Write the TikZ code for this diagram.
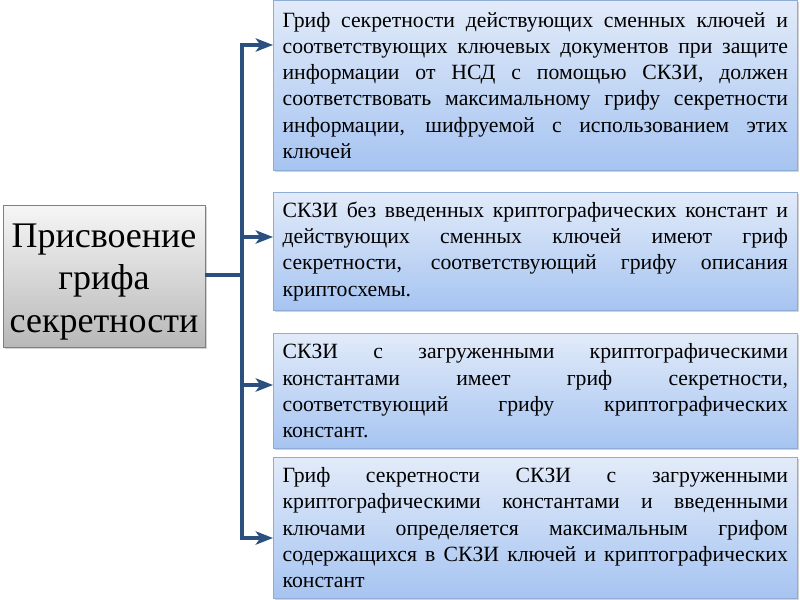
\documentclass[tikz,border=0pt]{standalone}
\usepackage{fontspec}
\setmainfont{Liberation Serif}
\usetikzlibrary{arrows.meta,shadows}
\definecolor{linkblue}{HTML}{2B5080}
\definecolor{cardline}{HTML}{8EADD6}
\definecolor{cardtop}{HTML}{E2EBF9}
\definecolor{cardbot}{HTML}{A6C4F1}
\definecolor{headline}{HTML}{7F7F7F}
\definecolor{headtop}{HTML}{F6F6F6}
\definecolor{headbot}{HTML}{B8B8B8}
\hyphenpenalty=10000
\tolerance=10000
\begin{document}
\begin{tikzpicture}[x=0.75pt,y=-0.75pt,
    card/.style={draw=cardline, top color=cardtop, bottom color=cardbot,
      anchor=north west, inner xsep=7pt, inner ysep=0pt, text width=379pt,
      align=justify, font=\fontsize{16.3}{19.7}\selectfont,
      drop shadow={shadow xshift=1.5pt, shadow yshift=-1.5pt, opacity=0.35}},
    head/.style={draw=headline, top color=headtop, bottom color=headbot,
      minimum width=151.5pt, minimum height=106.5pt, inner sep=0pt,
      align=center, font=\fontsize{27}{32}\selectfont,
      drop shadow={shadow xshift=1.5pt, shadow yshift=-1.5pt, opacity=0.35}},
    link/.style={draw=linkblue, line width=2.6pt},
    tip/.style={-{Stealth[length=13pt, width=10pt, inset=3.5pt]}}]
  \useasboundingbox (0,0) rectangle (800,600);
  % left heading
  \node [head] (main) at (104,276) {\raisebox{-4.5pt}[\height][\depth]{\parbox{151pt}{\centering Присвоение\\ грифа\\ секретности}}};
  % the four cards
  \node [card, minimum height=127.5pt] (b1) at (273,0) {Гриф секретности действующих сменных ключей и\linebreak
    соответствующих ключевых документов при защите\linebreak
    информации от НСД с помощью СКЗИ, должен\linebreak
    соответствовать максимальному грифу секретности\linebreak
    информации, шифруемой с использованием этих\linebreak
    ключей};
  \node [card, minimum height=88.5pt] (b2) at (273,192) {СКЗИ без введенных криптографических констант и\linebreak
    действующих сменных ключей имеют гриф\linebreak
    секретности, соответствующий грифу описания\linebreak
    криптосхемы.};
  \node [card, minimum height=86.25pt] (b3) at (273,333) {СКЗИ с загруженными криптографическими\linebreak
    константами имеет гриф секретности,\linebreak
    соответствующий грифу криптографических\linebreak
    констант.};
  \node [card, minimum height=105.75pt] (b4) at (273,457) {Гриф секретности СКЗИ с загруженными\linebreak
    криптографическими константами и введенными\linebreak
    ключами определяется максимальным грифом\linebreak
    содержащихся в СКЗИ ключей и криптографических\linebreak
    констант};
  % trunk points
  \coordinate (t0) at (242,275);
  \coordinate (t1) at (242,45);
  \coordinate (t2) at (242,237);
  \coordinate (t3) at (242,385);
  \coordinate (t4) at (242,538);
  \draw [link] (main.east |- t0) -- (t0);
  \draw [link, {Stealth[length=13pt, width=10pt, inset=3.5pt]}-{Stealth[length=13pt, width=10pt, inset=3.5pt]}]
    (t1 -| b1.west) -- (t1) -- (t4) -- (t4 -| b4.west);
  \draw [link, tip] (t2) -- (t2 -| b2.west);
  \draw [link, tip] (t3) -- (t3 -| b3.west);
\end{tikzpicture}
\end{document}
